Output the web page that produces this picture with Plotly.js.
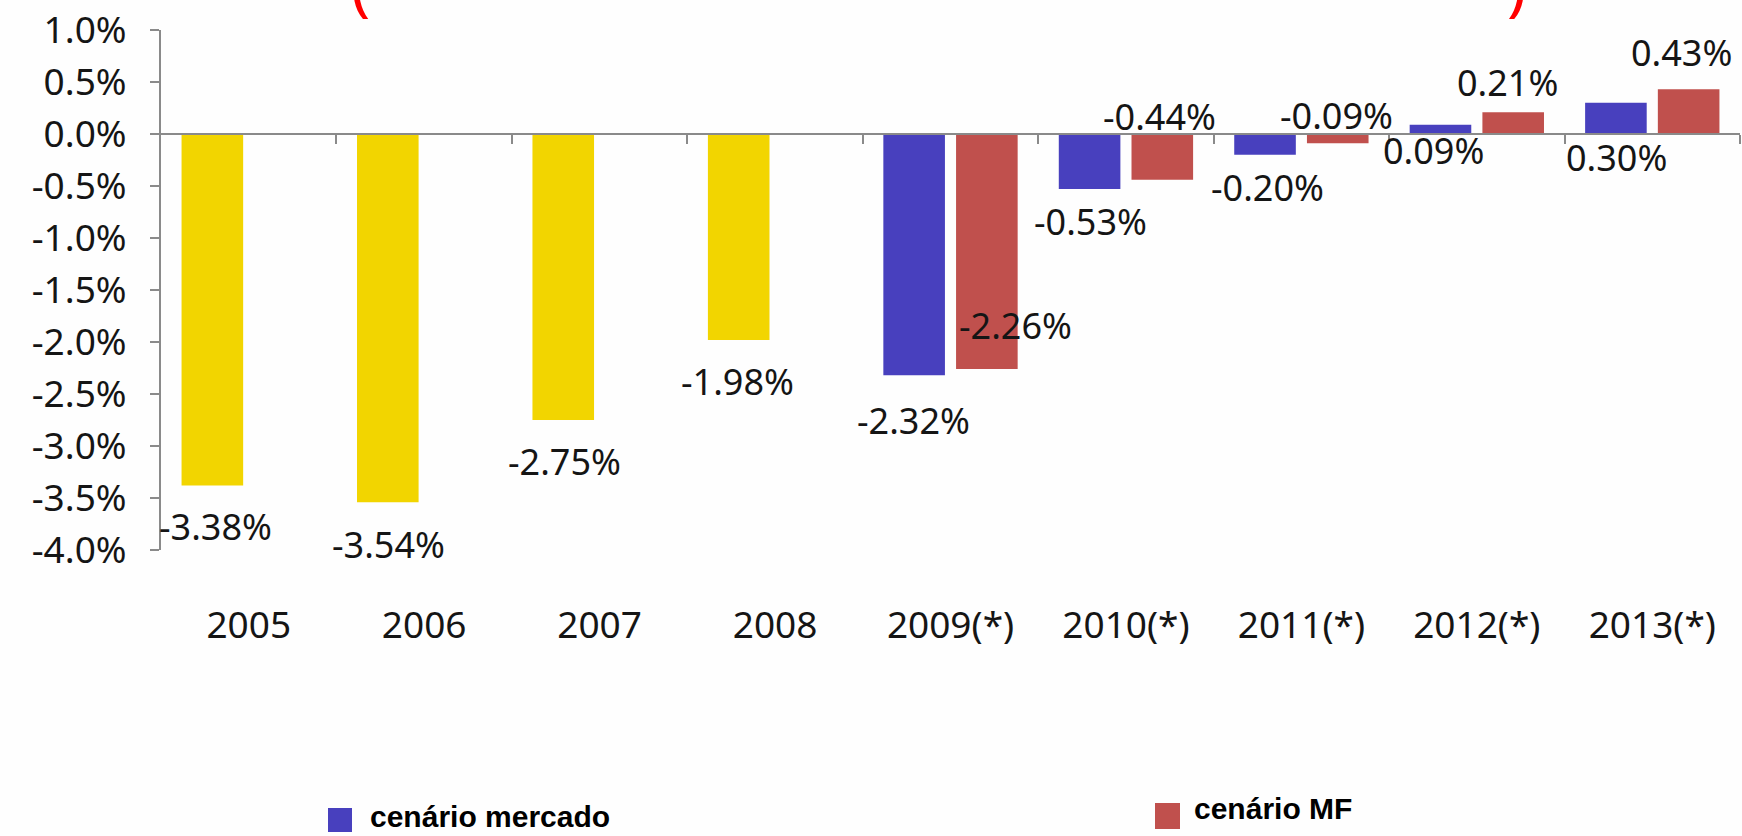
<!DOCTYPE html>
<html><head><meta charset="utf-8">
<script src="https://cdn.plot.ly/plotly-3.0.1.min.js"></script>
<style>html,body{margin:0;padding:0;background:#fefefe;}#chart{width:1742px;height:836px;}</style>
</head><body><div id="chart"></div>
<script>
// ---- data ----
const years = ['2005','2006','2007','2008','2009(*)','2010(*)','2011(*)','2012(*)','2013(*)'];
const mercadoValues = [-3.38,-3.54,-2.75,-1.98,-2.32,-0.53,-0.20,0.09,0.30];
const mfValues = [null,null,null,null,-2.26,-0.44,-0.09,0.21,0.43];
const seriesNames = ['cenário mercado','cenário MF'];
const yTickValues = [1,0.5,0,-0.5,-1,-1.5,-2,-2.5,-3,-3.5,-4];
const yTickLabels = ['1.0%','0.5%','0.0%','-0.5%','-1.0%','-1.5%','-2.0%','-2.5%','-3.0%','-3.5%','-4.0%'];

// ---- styles / layout constants ----
const YELLOW = '#F2D500', BLUE = '#4840BE', RED = '#C0504D', AXIS = '#8a8a8a';
const FONT = 'Noto Sans, Open Sans, sans-serif';
const TXT = '#151515';
const M = {l:161, r:2, t:30, b:286};
const W = 1742, H = 836;
const plotW = W - M.l - M.r, plotH = H - M.t - M.b;
const BARGAP = 0.171, GROUPGAP = 0.153;
const halfSlot = (1 - BARGAP) / 2 * (plotW / years.length) / 2;
// label offsets in px [dx, dy(down)] relative to bar end
const mercadoLabelShift = [[3,41],[1,42],[1,41],[-1,42],[-1,45],[1,32],[2,33],[-7,26],[1,55]];
const mfLabelShift = [null,null,null,null,[29,-44],[-3,-63],[-1,-28],[-6,-30],[-7,-37]];

const mercadoColors = years.map(y => y.indexOf('(*)') >= 0 ? BLUE : YELLOW);

const traces = [
  {type:'bar', name:seriesNames[0], x:years, y:mercadoValues, marker:{color:mercadoColors, line:{width:0}}, showlegend:false, hoverinfo:'x+y'},
  {type:'bar', name:seriesNames[1], x:years, y:mfValues, marker:{color:RED, line:{width:0}}, showlegend:false, hoverinfo:'x+y'},
  {type:'scatter', x:[], y:[], xaxis:'x2', yaxis:'y', showlegend:false, hoverinfo:'skip'}
];

const annotations = [];
const fmt = v => v.toFixed(2) + '%';
const LABEL_FONT = {family:FONT, size:36, color:TXT};
years.forEach((yr, i) => {
  const s = mercadoLabelShift[i];
  annotations.push({x:i, y:mercadoValues[i], xref:'x', yref:'y', text:fmt(mercadoValues[i]), showarrow:false,
    xshift: -halfSlot + s[0], yshift:-s[1], font:LABEL_FONT, xanchor:'center', yanchor:'middle'});
  if (mfValues[i] !== null) {
    const t = mfLabelShift[i];
    annotations.push({x:i, y:mfValues[i], xref:'x', yref:'y', text:fmt(mfValues[i]), showarrow:false,
      xshift: halfSlot + t[0], yshift:-t[1], font:LABEL_FONT, xanchor:'center', yanchor:'middle'});
  }
});

const px2x = px => (px - M.l) / plotW;
const px2y = py => (M.t + plotH - py) / plotH;

// cut-off red parentheses of the slide title above the chart
annotations.push({xref:'paper', yref:'paper', x:px2x(360), y:px2y(14), text:'(', showarrow:false,
  xanchor:'center', yanchor:'bottom', yshift:-16, font:{family:FONT, size:64, color:'#FF0000'}});
annotations.push({xref:'paper', yref:'paper', x:px2x(1516), y:px2y(14), text:')', showarrow:false,
  xanchor:'center', yanchor:'bottom', yshift:-16, font:{family:FONT, size:64, color:'#FF0000'}});

// custom legend
const LEG_FONT = {family:'Liberation Sans, Arial, sans-serif', size:30, color:'#000'};
const legendItems = [
  {color:BLUE, name:seriesNames[0], box:[328,808,352,832], textX:368, textY:816},
  {color:RED, name:seriesNames[1], box:[1155,803,1180,829], textX:1192, textY:808}
];
const shapes = [];
legendItems.forEach(it => {
  shapes.push({type:'rect', xref:'paper', yref:'paper', x0:px2x(it.box[0]), x1:px2x(it.box[2]),
    y0:px2y(it.box[3]), y1:px2y(it.box[1]), fillcolor:it.color, line:{width:0}});
  annotations.push({xref:'paper', yref:'paper', x:px2x(it.textX), y:px2y(it.textY), text:'<b>'+it.name+'</b>',
    showarrow:false, xanchor:'left', yanchor:'middle', font:LEG_FONT});
});

const layout = {
  width:W, height:H, margin:M,
  paper_bgcolor:'#fefefe', plot_bgcolor:'rgba(0,0,0,0)',
  barmode:'group', bargap:BARGAP, bargroupgap:GROUPGAP,
  showlegend:false,
  xaxis:{type:'category', categoryarray:years, range:[-0.5, years.length-0.5], showline:false, ticks:'',
    showgrid:false, zeroline:false, tickfont:{family:FONT, size:37, color:TXT}, ticklabelstandoff:50},
  xaxis2:{type:'linear', overlaying:'x', anchor:'free', position:0.8, range:[-0.5, years.length-0.5],
    tickvals:years.map((_, i) => i + 0.5), ticks:'outside', ticklen:9, tickwidth:2, tickcolor:AXIS,
    showline:true, linecolor:AXIS, linewidth:2, showticklabels:false, showgrid:false, zeroline:false},
  yaxis:{range:[-4, 1], tickvals:yTickValues, ticktext:yTickLabels, ticks:'outside', ticklen:9, tickwidth:2,
    tickcolor:AXIS, showline:true, linecolor:AXIS, linewidth:2, showgrid:false, zeroline:false,
    tickfont:{family:FONT, size:37, color:TXT}, ticklabelstandoff:16},
  annotations:annotations, shapes:shapes
};

Plotly.newPlot('chart', traces, layout, {displayModeBar:false, staticPlot:true});
</script></body></html>
